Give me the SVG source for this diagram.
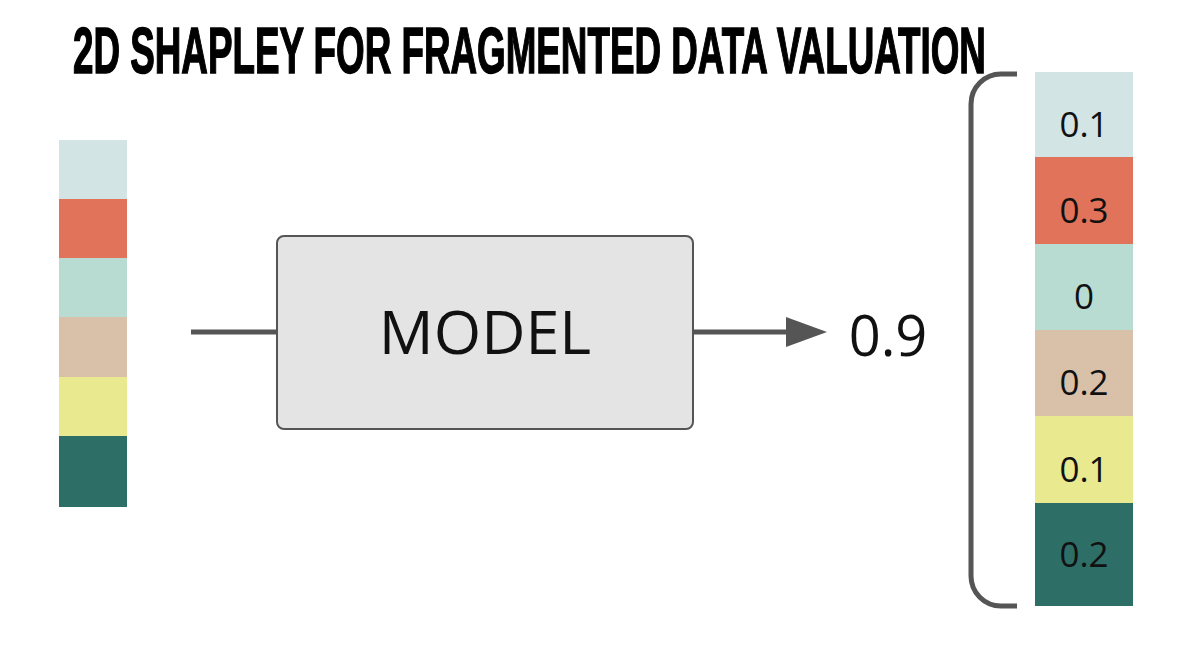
<svg xmlns="http://www.w3.org/2000/svg" width="1200" height="662" viewBox="0 0 1200 662">
<defs>
<style>
.t{font-family:"Open Sans","Noto Sans",sans-serif;fill:#111;text-anchor:middle}
.v{font-size:35px}
.ln{stroke:#555;stroke-width:5;fill:none}
</style>
</defs>
<rect width="1200" height="662" fill="#fff"/>
<text id="title" transform="translate(73,73) scale(0.575,1)" x="0" y="0" font-family="'Liberation Sans',Arial,sans-serif" font-weight="bold" font-size="64" fill="#000" stroke="#000" stroke-width="1.5">2D SHAPLEY FOR FRAGMENTED DATA VALUATION</text>
<g id="input-bar">
<rect x="59" y="140" width="68" height="59" fill="#d3e4e4"/>
<rect x="59" y="199" width="68" height="59" fill="#e0735a"/>
<rect x="59" y="258" width="68" height="59" fill="#b8dcd1"/>
<rect x="59" y="317" width="68" height="60" fill="#d8c1a8"/>
<rect x="59" y="377" width="68" height="59" fill="#e9e98f"/>
<rect x="59" y="436" width="68" height="71" fill="#2d6f66"/>
</g>
<g id="connectors">
<line class="ln" x1="191" y1="332" x2="277" y2="332"/>
<line x1="693" y1="332" x2="800" y2="332" stroke="#555" stroke-width="5"/>
<path d="M786,317 L827,332 L786,347 Z" fill="#555"/>
</g>
<g id="model">
<rect x="277" y="236" width="416" height="193" rx="7" fill="#e4e4e4" stroke="#555" stroke-width="2"/>
<text class="t" x="485" y="354" font-size="61">MODEL</text>
</g>
<g id="score">
<text class="t" x="888" y="356" font-size="56">0.9</text>
</g>
<g id="bracket">
<path class="ln" d="M1017,74 H1001 A30,30 0 0 0 971,104 V576 A30,30 0 0 0 1001,606 H1017"/>
</g>
<g id="values">
<rect x="1035" y="72" width="98" height="85" fill="#d3e4e4"/>
<rect x="1035" y="157" width="98" height="87" fill="#e0735a"/>
<rect x="1035" y="244" width="98" height="86" fill="#b8dcd1"/>
<rect x="1035" y="330" width="98" height="86" fill="#d8c1a8"/>
<rect x="1035" y="416" width="98" height="87" fill="#e9e98f"/>
<rect x="1035" y="503" width="98" height="103" fill="#2d6f66"/>
<text class="t v" x="1084" y="137">0.1</text>
<text class="t v" x="1084" y="223">0.3</text>
<text class="t v" x="1084" y="309">0</text>
<text class="t v" x="1084" y="395">0.2</text>
<text class="t v" x="1084" y="482">0.1</text>
<text class="t v" x="1084" y="567">0.2</text>
</g>
</svg>
